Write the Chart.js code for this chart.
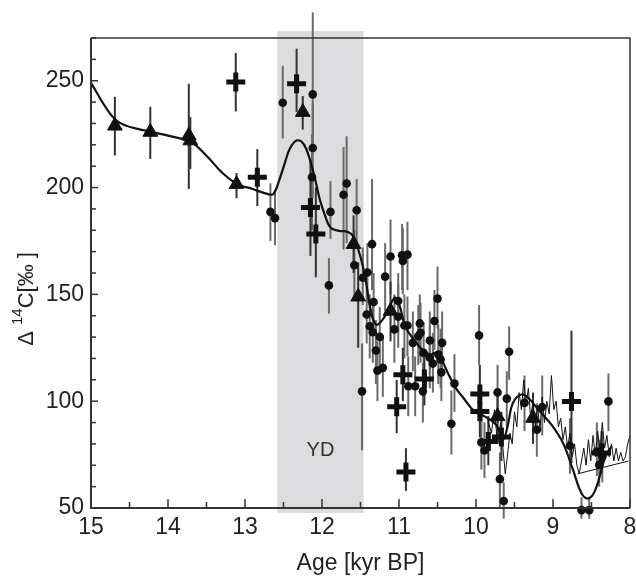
<!DOCTYPE html>
<html>
<head>
<meta charset="utf-8">
<script src="https://cdn.jsdelivr.net/npm/chart.js@4.4.1/dist/chart.umd.min.js"></script>
<style>
  body { margin: 0; background: #fff; }
  canvas { display: block; }
</style>
</head>
<body>
<canvas id="myChart" width="636" height="579"></canvas>
<script>
// tick labels
var xTicks = [15, 14, 13, 12, 11, 10, 9, 8];
var yTicks = [50, 100, 150, 200, 250];

// Younger Dryas band
var ydStart = 12.58;
var ydEnd = 11.46;

// smooth (thick) curve
var smoothAge = [15.0, 14.75, 14.6, 14.3, 14.0, 13.7, 13.5, 13.3, 13.1, 12.9, 12.7, 12.63, 12.55, 12.48, 12.42, 12.33, 12.24, 12.16, 12.09, 12.03, 11.96, 11.89, 11.78, 11.67, 11.59, 11.53, 11.47, 11.42, 11.37, 11.3, 11.21, 11.12, 11.05, 10.99, 10.92, 10.81, 10.68, 10.59, 10.53, 10.46, 10.35, 10.26, 10.18, 10.02, 9.89, 9.74, 9.65, 9.59, 9.52, 9.41, 9.32, 9.19, 9.02, 8.87, 8.74, 8.63, 8.54, 8.45, 8.32, 8.24];
var smoothVal = [249, 234.5, 229.8, 226.7, 224.3, 221.2, 214.9, 207.1, 201.6, 199.3, 196.9, 197, 204, 211.8, 218, 222, 220.4, 213.4, 204, 194.6, 186.8, 181.3, 179.7, 179.3, 177, 171.1, 163.3, 153.9, 143, 135.9, 138.3, 144.5, 148.5, 144.5, 135.1, 128.9, 123.4, 121.8, 122.6, 120.3, 112, 106, 102.3, 95.2, 92.9, 89, 82, 88.2, 99.2, 103.1, 101.5, 96, 89, 80.4, 67.8, 56.9, 54.5, 58.5, 74.1, 78.8];

// high-resolution (thin) record
var thinAge = [9.85, 9.8, 9.76, 9.72, 9.68, 9.65, 9.62, 9.59, 9.56, 9.53, 9.5, 9.47, 9.44, 9.41, 9.38, 9.35, 9.32, 9.29, 9.26, 9.23, 9.2, 9.17, 9.14, 9.11, 9.08, 9.05, 9.02, 8.99, 8.96, 8.93, 8.9, 8.87, 8.84, 8.81, 8.78, 8.75, 8.72, 8.69, 8.66, 8.63, 8.6, 8.57, 8.54, 8.51, 8.48, 8.45, 8.42, 8.39, 8.36, 8.33, 8.3, 8.27, 8.24, 8.21, 8.18, 8.15, 8.12, 8.09, 8.06, 8.03, 8.0];
var thinVal = [92, 85, 96, 80, 90, 78, 66, 75, 85, 80, 95, 88, 104, 96, 110, 98, 106, 92, 100, 88, 98, 86, 102, 90, 100, 94, 112, 96, 100, 88, 92, 82, 88, 78, 85, 74, 80, 70, 66, 72, 78, 70, 82, 72, 84, 74, 86, 76, 90, 78, 84, 74, 80, 72, 78, 72, 76, 72, 74, 80, 84];

// straight thin segment
var trendAge = [8.68, 8.02];
var trendVal = [66, 72];

// dots with error bars
var dotAge = [12.67, 12.61, 12.51, 12.12, 12.12, 12.13, 11.89, 11.91, 11.72, 11.68, 11.55, 11.58, 11.48, 11.47, 11.41, 11.35, 11.33, 11.42, 11.38, 11.34, 11.25, 11.30, 11.21, 11.28, 11.18, 11.11, 10.96, 10.89, 10.95, 11.01, 11.01, 11.06, 10.93, 10.89, 10.82, 10.73, 10.75, 10.72, 10.60, 10.54, 10.50, 10.44, 10.68, 10.60, 10.49, 10.46, 10.56, 10.45, 10.28, 10.88, 10.79, 10.69, 10.32, 9.96, 9.57, 9.72, 9.60, 9.37, 9.93, 9.89, 9.69, 9.64, 8.28, 9.14, 9.21, 8.78, 8.63, 8.53, 8.43, 8.36, 8.40];
var dotVal = [188.6, 185.7, 239.7, 243.6, 218.5, 204.8, 188.6, 154.2, 196.6, 201.9, 189.4, 163.6, 104.6, 157.8, 160.2, 173.5, 146.4, 140.6, 135.1, 132.3, 130.1, 123.7, 115.6, 114.3, 158.3, 167.7, 168.3, 168.6, 165.6, 146.9, 139.5, 133.6, 135.4, 135.4, 127.3, 136.4, 130.4, 132, 128.4, 137.5, 148, 127.3, 122.6, 120.3, 121.8, 119.5, 117.6, 113.5, 108.2, 107, 107, 104.6, 89.4, 130.8, 123.1, 104.1, 101.2, 99.2, 80.7, 76.9, 63.5, 53.3, 99.9, 97.3, 86.6, 79.1, 49, 49, 76.4, 74.1, 70.2];
var dotLo = [175, 173, 223, 218, 195, 180, 176, 141, 171, 174, 173, 148, 77, 145, 146, 152, 133, 127, 120, 118, 116, 108, 102, 100, 142, 150, 152, 152, 150, 132, 125, 118, 120, 121, 114, 121, 117, 118, 115, 124, 134, 113, 108, 106, 108, 106, 104, 100, 95, 93, 93, 90, 75, 117, 110, 90, 88, 86, 68, 64, 50, 45, 86, 84, 74, 66, 45, 45, 65, 62, 60];
var dotHi = [202, 199, 257, 282, 240, 225, 203, 167, 219, 224, 204, 180, 127, 172, 174, 204, 160, 155, 150, 146, 144, 138, 130, 128, 174, 185, 183, 184, 181, 160, 155, 150, 150, 149, 142, 150, 145, 146, 142, 152, 163, 142, 137, 135, 136, 134, 132, 128, 122, 121, 121, 118, 105, 145, 135, 117, 114, 112, 95, 90, 76, 62, 113, 112, 99, 92, 55, 55, 90, 86, 82];

// crosses with error bars
var crossAge = [13.12, 12.84, 12.33, 12.15, 12.08, 10.95, 10.67, 11.03, 10.91, 9.95, 9.95, 9.84, 9.67, 8.76, 8.37];
var crossVal = [249.4, 204.8, 248.6, 190.7, 178.2, 112.4, 110.4, 97.4, 66.9, 103.4, 95.2, 81.1, 83.2, 99.9, 75.7];
var crossLo = [235.6, 191.3, 235.4, 168, 158, 100, 98, 85, 58, 90, 83, 70, 72, 71, 66];
var crossHi = [263, 218, 265, 213, 200, 125, 123, 110, 78, 117, 108, 93, 95, 133, 86];

// triangles with error bars
var triAge = [14.69, 14.23, 13.73, 13.71, 13.11, 12.25, 11.59, 11.53, 11.11, 9.72, 9.26];
var triVal = [228.9, 226, 224.3, 222, 201.6, 235.3, 173.5, 148.9, 142.2, 92.9, 92.1];
var triLo = [215, 213.4, 199.3, 208.7, 195, 227.1, 160, 125, 128, 80, 80];
var triHi = [242.5, 237.8, 248.6, 233, 206.8, 242.8, 187, 165, 156, 105, 104];

function pts(xs, ys) {
    return xs.map(function(x, i) { return { x: x, y: ys[i] }; });
}

var textColor = '#222';
var fontFamily = "'Liberation Sans', Arial, sans-serif";

var decorations = {
    id: 'decorations',
    beforeDatasetsDraw: function(chart) {
        var c = chart.ctx, xs = chart.scales.x, ys = chart.scales.y, a = chart.chartArea;
        // YD band
        var x1 = xs.getPixelForValue(ydStart), x2 = xs.getPixelForValue(ydEnd);
        c.save();
        c.fillStyle = '#dbdcde';
        c.fillRect(x1, a.top - 7, x2 - x1, a.bottom - a.top + 12);
        c.fillStyle = '#333';
        c.font = '20px ' + fontFamily;
        c.textAlign = 'center';
        c.textBaseline = 'middle';
        c.fillText('YD', (x1 + x2) / 2, ys.getPixelForValue(77));
        // error bars
        function bars(ages, lo, hi, color, w) {
            c.strokeStyle = color;
            c.lineWidth = w;
            ages.forEach(function(age, i) {
                var px = xs.getPixelForValue(age);
                c.beginPath();
                c.moveTo(px, ys.getPixelForValue(lo[i]));
                c.lineTo(px, ys.getPixelForValue(hi[i]));
                c.stroke();
            });
        }
        bars(dotAge, dotLo, dotHi, '#6a6a6a', 2);
        bars(crossAge, crossLo, crossHi, '#333', 2);
        bars(triAge, triLo, triHi, '#333', 2);
        c.restore();
    },
    afterDraw: function(chart) {
        var c = chart.ctx, xs = chart.scales.x, ys = chart.scales.y, a = chart.chartArea;
        c.save();
        c.strokeStyle = '#333';
        // frame
        c.lineWidth = 1.5;
        c.beginPath();
        c.moveTo(a.left, a.top); c.lineTo(a.right, a.top); c.lineTo(a.right, a.bottom);
        c.stroke();
        c.lineWidth = 2;
        c.beginPath();
        c.moveTo(a.left, a.top); c.lineTo(a.left, a.bottom); c.lineTo(a.right, a.bottom);
        c.stroke();
        // inward ticks
        c.lineWidth = 1.5;
        for (var v = 8; v <= 15.001; v += 0.5) {
            var px = xs.getPixelForValue(v);
            var len = (Math.abs(v - Math.round(v)) < 0.01) ? 9 : 6;
            c.beginPath(); c.moveTo(px, a.bottom); c.lineTo(px, a.bottom - len); c.stroke();
        }
        for (var w = 50; w <= 270; w += 10) {
            var py = ys.getPixelForValue(w);
            var l2 = (w % 50 === 0) ? 7 : 5;
            c.beginPath(); c.moveTo(a.left, py); c.lineTo(a.left + l2, py); c.stroke();
        }
        // y axis title with superscript
        c.translate(27, 299);
        c.rotate(-Math.PI / 2);
        c.fillStyle = textColor;
        c.textBaseline = 'middle';
        c.textAlign = 'left';
        var big = '22px ' + fontFamily, small = '15px ' + fontFamily;
        c.font = big;
        var w1 = c.measureText('\u0394 ').width, w3 = c.measureText('C[\u2030 ]').width;
        c.font = small;
        var w2 = c.measureText('14').width;
        var x0 = -(w1 + w2 + w3) / 2;
        c.font = big;
        c.fillText('\u0394 ', x0, 0);
        c.font = small;
        c.fillText('14', x0 + w1, -9);
        c.font = big;
        c.fillText('C[\u2030 ]', x0 + w1 + w2, 0);
        c.restore();
    }
};

const ctx = document.getElementById('myChart');
const myChart = new Chart(ctx, {
    type: 'scatter',
    data: {
        datasets: [{
            label: 'smooth',
            data: pts(smoothAge, smoothVal),
            showLine: true,
            borderColor: '#111',
            borderWidth: 2.2,
            tension: 0.4,
            pointRadius: 0,
            clip: false
        }, {
            label: 'thin',
            data: pts(thinAge, thinVal),
            showLine: true,
            borderColor: '#111',
            borderWidth: 1,
            tension: 0,
            pointRadius: 0
        }, {
            label: 'trend',
            data: pts(trendAge, trendVal),
            showLine: true,
            borderColor: '#111',
            borderWidth: 1,
            pointRadius: 0
        }, {
            label: 'dots',
            data: pts(dotAge, dotVal),
            pointStyle: 'circle',
            pointRadius: 4.3,
            backgroundColor: '#111',
            borderColor: '#111',
            borderWidth: 0,
            clip: false
        }, {
            label: 'crosses',
            data: pts(crossAge, crossVal),
            pointStyle: 'cross',
            pointRadius: 9.5,
            borderColor: '#111',
            borderWidth: 5,
            clip: false
        }, {
            label: 'triangles',
            data: pts(triAge, triVal),
            pointStyle: 'triangle',
            pointRadius: 8.5,
            backgroundColor: '#111',
            borderColor: '#111',
            borderWidth: 1,
            clip: false
        }]
    },
    options: {
        responsive: false,
        animation: false,
        layout: { autoPadding: false, padding: { top: 38, right: 6, left: 0, bottom: 0 } },
        plugins: {
            legend: { display: false },
            tooltip: { enabled: false }
        },
        scales: {
            x: {
                type: 'linear',
                reverse: true,
                min: 8,
                max: 15,
                afterBuildTicks: function(s) { s.ticks = xTicks.map(function(v) { return { value: v }; }); },
                afterFit: function(s) { s.height = 71; s.paddingRight = 0; },
                grid: { display: false, drawTicks: false },
                border: { display: false },
                ticks: { color: textColor, font: { family: fontFamily, size: 23 }, padding: 6, maxRotation: 0 },
                title: { display: true, text: 'Age [kyr BP]', color: textColor, font: { family: fontFamily, size: 23 }, padding: { top: 0, bottom: 2 } }
            },
            y: {
                type: 'linear',
                min: 50,
                max: 270,
                afterBuildTicks: function(s) { s.ticks = yTicks.map(function(v) { return { value: v }; }); },
                afterFit: function(s) { s.width = 91; },
                grid: { display: false, drawTicks: false },
                border: { display: false },
                ticks: { color: textColor, font: { family: fontFamily, size: 23 }, padding: 7 }
            }
        }
    },
    plugins: [decorations]
});
</script>
</body>
</html>
